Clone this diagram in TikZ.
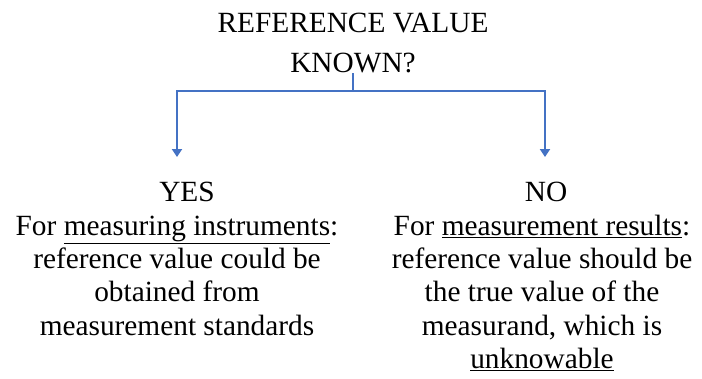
\documentclass[tikz,border=0pt]{standalone}
\usepackage{fontspec}
\newfontfamily\timesfont{Liberation Serif}
\usetikzlibrary{arrows.meta,positioning}
\definecolor{linkblue}{RGB}{68,114,196}

\begin{document}
\begin{tikzpicture}[
    x=0.75pt, y=-0.75pt,
    txt/.style={
      align=center,
      anchor=north,
      inner sep=0pt,
      font=\timesfont\fontsize{22}{25}\selectfont
    },
    title/.style={txt, font=\timesfont\fontsize{22}{30}\selectfont},
    arrow/.style={-{Triangle[width=7.5pt,length=6pt]}, line width=1.5pt, linkblue}
  ]
    \useasboundingbox (0,0) rectangle (702,378);

    \node[title] (question) at (353,13) {REFERENCE VALUE\\KNOWN?};
    \node[txt] (yes) at (177,182) {\hspace*{15pt}YES\\For \underline{measuring instruments}:\\reference value could be\\obtained from\\measurement standards};
    \node[txt] (no) at (542,182) {\hspace*{6pt}NO\\For \underline{measurement results}:\\reference value should be\\the true value of the\\measurand, which is\\\underline{unknowable}};

    \coordinate (split) at (353,91);
    \coordinate (yestip) at (177,157);
    \coordinate (notip) at (545,157);

    \draw[line width=1.5pt, linkblue] (question.south) -- (split);
    \draw[arrow] (split) -| (yestip);
    \draw[arrow] (split) -| (notip);
  \end{tikzpicture}
\end{document}
